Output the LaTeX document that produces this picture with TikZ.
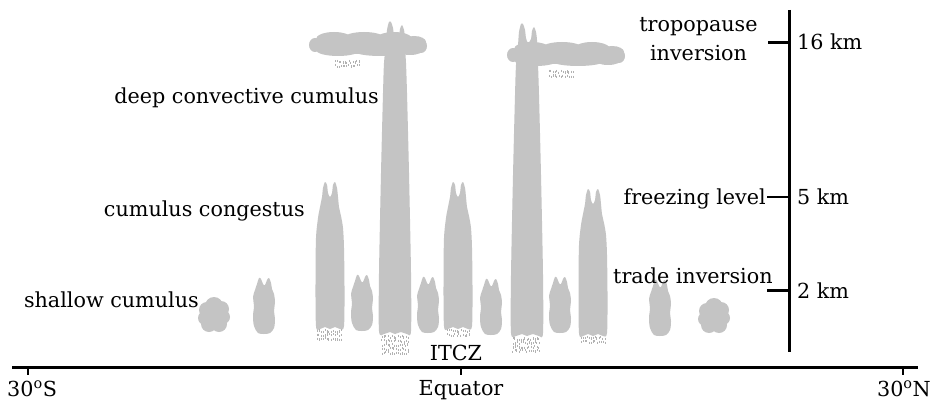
\documentclass[tikz,border=0pt]{standalone}
\usepackage{fontspec}
\setmainfont{DejaVu Serif}
\definecolor{cloudgray}{RGB}{196,196,196}
\definecolor{raingray}{RGB}{178,178,178}
\tikzset{
  cloudfill/.style={fill=cloudgray, draw=none},
  rainline/.style={draw=raingray, line width=0.4pt},
  txt/.style={inner sep=0pt, font=\fontsize{20.7}{30}\selectfont},
  axisline/.style={line width=3.5pt},
  vaxis/.style={line width=3pt},
  tickline/.style={line width=2.5pt},
}

% fair-weather puff: a lumpy round cloud
\newcommand\puffcloud[2]{%
  \begin{scope}[shift={(#1,#2)}]
    \fill[cloudfill] (0,0) circle[radius=11pt];
    \fill[cloudfill] (0,-9) circle[radius=9pt];
    \fill[cloudfill] (-7,-5) circle[radius=8pt];
    \fill[cloudfill] (7,-6) circle[radius=8pt];
    \fill[cloudfill] (-9,3) circle[radius=7pt];
    \fill[cloudfill] (9,2) circle[radius=7pt];
    \fill[cloudfill] (-5,9) circle[radius=8pt];
    \fill[cloudfill] (5,9) circle[radius=8pt];
  \end{scope}}

% small cumulus tower with two turrets; #1 centre x, #2 base y
\newcommand\smalltower[2]{%
  \fill[cloudfill, shift={(#1,#2)}, yscale=-1]
    plot[smooth cycle, tension=0.55] coordinates {
      (0,-1) (6,0) (10,5) (11,14) (10,22) (11,31) (10,39) (8,44) (7,50)
      (5,55) (3,53) (1,48) (-1,49) (-3,54) (-5,55) (-7,49) (-9,43)
      (-11,36) (-10,27) (-11,17) (-10,7) (-6,0)};}

% cumulus congestus column; #1 centre x, #2 base y
\newcommand\congestus[2]{%
  \fill[cloudfill, shift={(#1,#2)}, yscale=-1]
    plot[smooth cycle, tension=0.5] coordinates {
      (-14,2) (-10,-1) (-5,1) (0,-1) (5,1) (10,-1) (14,2) (14.5,40)
      (14,80) (13,100) (11,112) (9,121) (8,131) (7,140) (5,146) (3,143)
      (2,135) (0,131) (-2,135) (-3,143) (-5,146) (-7,140) (-8,131)
      (-10,121) (-12,110) (-14,90) (-14.5,50)};}

% deep convective column with two overshooting turrets; #1 centre x, #2 base y
\newcommand\deepcolumn[2]{%
  \fill[cloudfill, shift={(#1,#2)}, yscale=-1]
    plot[smooth cycle, tension=0.45] coordinates {
      (-16,2) (-11,-1) (-5,1) (0,-1) (6,1) (12,-1) (16,2) (16,60)
      (14,160) (12,240) (11,270) (10,285) (10,295) (9,303) (7,308)
      (5,304) (4,296) (1,292) (-1,297) (-2,305) (-4,311) (-6,311)
      (-8,303) (-9,290) (-11,270) (-12,240) (-14,160) (-16,60)};}

% anvil spreading under the tropopause; #1 centre x, #2 centre y
\newcommand\anvilcloud[2]{%
  \begin{scope}[shift={(#1,#2)}]
    \fill[cloudfill] (0,1) ellipse[x radius=56pt, y radius=9pt];
    \fill[cloudfill, rounded corners=5pt] (-48,-6) rectangle (48,8);
    \fill[cloudfill] (-34,-5) ellipse[x radius=18pt, y radius=7pt];
    \fill[cloudfill] (-4,-6) ellipse[x radius=20pt, y radius=6pt];
    \fill[cloudfill] (26,-5) ellipse[x radius=18pt, y radius=7pt];
    \fill[cloudfill] (46,-2) ellipse[x radius=12pt, y radius=6pt];
    \fill[cloudfill] (-30,6) ellipse[x radius=22pt, y radius=6pt];
    \fill[cloudfill] (12,7) ellipse[x radius=26pt, y radius=5pt];
    \fill[cloudfill] (42,5) ellipse[x radius=14pt, y radius=6pt];
    \fill[cloudfill] (-53,1) ellipse[x radius=6pt, y radius=7pt];
    \fill[cloudfill] (53,2) ellipse[x radius=6pt, y radius=7pt];
  \end{scope}}

% streaks of falling rain inside the box x0..x1, y0..y1
\newcommand\rainpatch[4]{%
  \pgfmathtruncatemacro\rnx{(#2-#1)/2}%
  \pgfmathtruncatemacro\rny{(#4-#3)/4}%
  \foreach \ri in {0,...,\rnx}{%
    \foreach \rj in {0,...,\rny}{%
      \pgfmathsetmacro\rpx{#1+2*\ri+0.6*rand}%
      \pgfmathsetmacro\rpy{#3+4*\rj+1.2*rand}%
      \draw[rainline] (\rpx,\rpy) -- ++(0,2.2);
    }}}

\begin{document}
\begin{tikzpicture}[x=1pt, y=-1pt]
  \pgfmathsetseed{11}
  \fill[white] (0,0) rectangle (933,401);
  \useasboundingbox (0,0) rectangle (933,401);

  % anvils and deep towers
  \anvilcloud{368}{44}
  \anvilcloud{566}{54}
  \deepcolumn{395}{333}
  \deepcolumn{527}{335}

  % congestus towers
  \congestus{330}{328}
  \congestus{458}{328}
  \congestus{593}{335}

  % small towers
  \smalltower{264}{333}
  \smalltower{362}{330}
  \smalltower{428}{332}
  \smalltower{491}{334}
  \smalltower{560}{332}
  \smalltower{660}{335}

  % shallow puffs
  \puffcloud{214}{315}
  \puffcloud{714}{316}

  % rain
  \rainpatch{317}{342}{330}{338}
  \rainpatch{382}{408}{336}{352}
  \rainpatch{447}{469}{330}{336}
  \rainpatch{513}{539}{338}{352}
  \rainpatch{581}{605}{337}{343}
  \rainpatch{335}{359}{61}{68}
  \rainpatch{549}{574}{71}{77}

  % latitude axis
  \coordinate (hl) at (12,367.5);
  \coordinate (hr) at (918,367.5);
  \draw[axisline] (hl) -- (hr);
  \coordinate (sTop) at (28,367.5);
  \coordinate (eTop) at (461,367.5);
  \coordinate (nTop) at (903,367.5);
  \coordinate (sTick) at (28,375);
  \coordinate (eTick) at (461,375);
  \coordinate (nTick) at (903,375);
  \draw[tickline] (sTop) -- (sTick);
  \draw[tickline] (eTop) -- (eTick);
  \draw[tickline] (nTop) -- (nTick);
  \node[txt, anchor=base west] (south) at (7,396) {30\textsuperscript{o}S};
  \node[txt, anchor=base] (equator) at (461,395) {Equator};
  \node[txt, anchor=base east] (north) at (931,396) {30\textsuperscript{o}N};
  \node[txt, anchor=base] (itcz) at (456,360) {ITCZ};

  % height axis
  \coordinate (vtop) at (789,10);
  \coordinate (vbot) at (789,352);
  \draw[vaxis] (vtop) -- (vbot);
  \coordinate (h16) at (789,42.5);
  \coordinate (h5) at (789,197);
  \coordinate (h2) at (789,290.5);
  \coordinate (h16l) at (768,42.5);
  \coordinate (h5l) at (767,197);
  \coordinate (h2l) at (767,290.5);
  \draw[tickline] (h16l) -- (h16);
  \draw[tickline] (h5l) -- (h5);
  \draw[tickline] (h2l) -- (h2);
  \node[txt, anchor=base west] (km16) at (797,50) {16 km};
  \node[txt, anchor=base west] (km5) at (797,204) {5 km};
  \node[txt, anchor=base west] (km2) at (797,298) {2 km};

  \node[txt, anchor=base] (trop) at (698.5,32) {tropopause};
  \node[txt, anchor=base] (tropinv) at (698.5,61) {inversion};
  \node[txt, anchor=base east] (freeze) at (766,204) {freezing level};
  \node[txt, anchor=base west] (trade) at (613,283) {trade inversion};

  % cloud-type labels
  \node[txt, anchor=base east] (deeplab) at (379,103) {deep convective cumulus};
  \node[txt, anchor=base east] (conglab) at (305,216) {cumulus congestus};
  \node[txt, anchor=base east] (shallab) at (199,307) {shallow cumulus};
\end{tikzpicture}
\end{document}
